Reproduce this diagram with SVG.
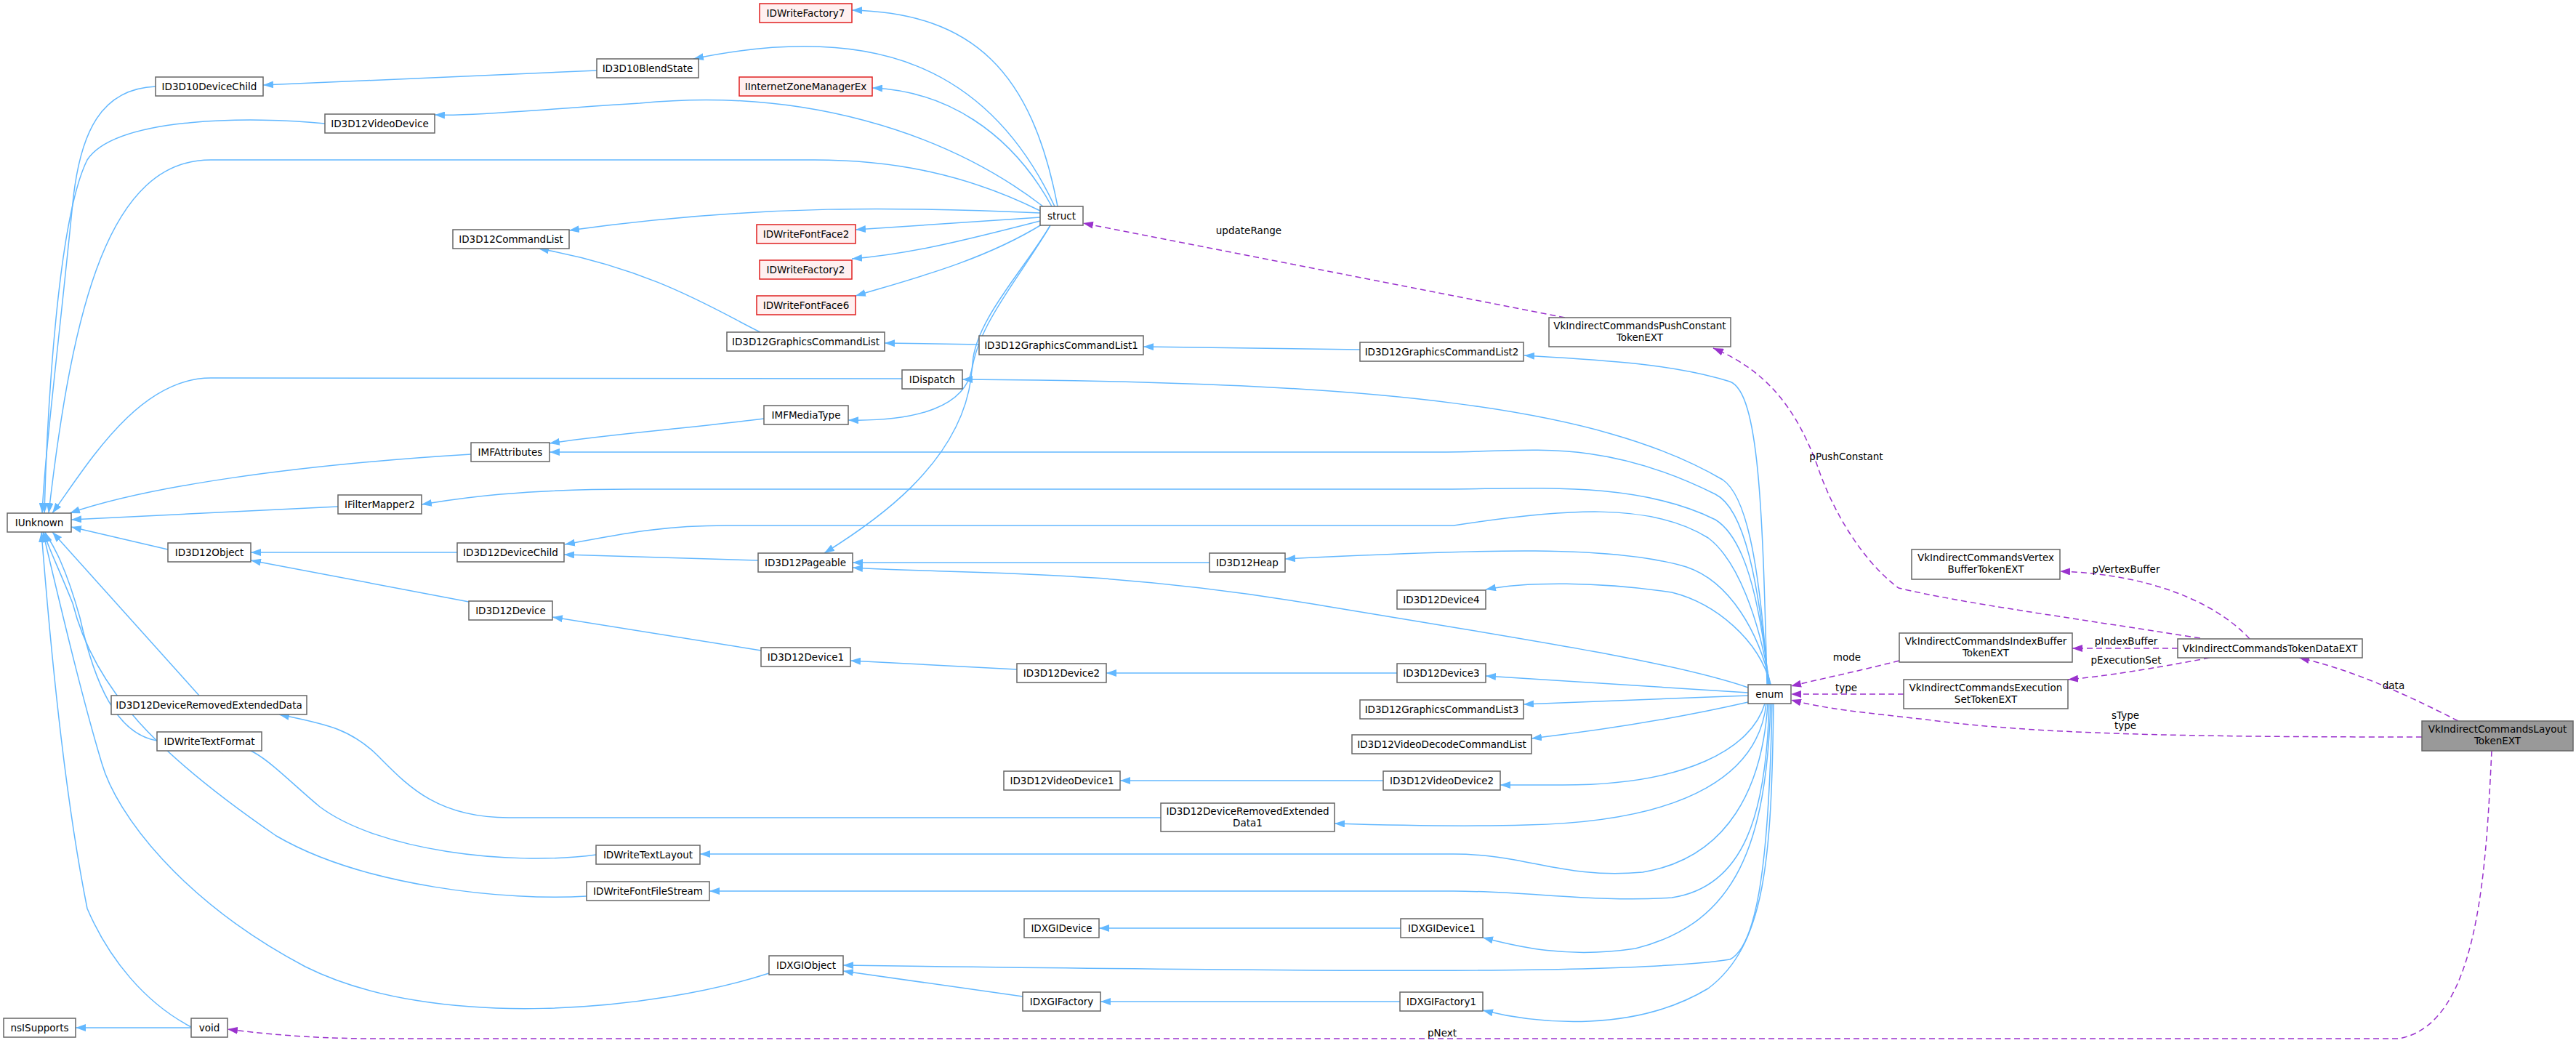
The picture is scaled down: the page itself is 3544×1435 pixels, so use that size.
<svg xmlns="http://www.w3.org/2000/svg" width="3544" height="1435" viewBox="0 0 3544 1435">
<style>
.n rect{fill:#fff;stroke:#666;stroke-width:1.5}
.r rect{fill:#fff0f0;stroke:#e02020}
.g rect{fill:#999;stroke:#666}
text{font-family:"DejaVu Sans","Liberation Sans",sans-serif;font-size:13.5px;fill:#000;text-anchor:middle}
.b{fill:none;stroke:#63b8ff;stroke-width:1.5}
.p{fill:none;stroke:#9a32cd;stroke-width:1.5;stroke-dasharray:8,5}
</style>
<defs>
<marker id="ab" markerWidth="14" markerHeight="10" refX="14" refY="5" orient="auto" markerUnits="userSpaceOnUse"><path d="M0,0L14,5L0,10z" fill="#63b8ff"/></marker>
<marker id="ap" markerWidth="14" markerHeight="10" refX="14" refY="5" orient="auto" markerUnits="userSpaceOnUse"><path d="M0,0L14,5L0,10z" fill="#9a32cd"/></marker>
</defs>
<rect width="3544" height="1435" fill="#fff"/>
<g id="edges">
<g marker-end="url(#ab)" class="b">
<path class="b" d="M214,119 C140,122 110,180 100,280 C80,480 62,620 58,706"/>
<path class="b" d="M447,170 C350,160 160,160 120,220 C80,300 65,560 61,706"/>
<path class="b" d="M1431,290 C1330,240 1230,220 1120,220 L290,220 C150,220 100,420 67,706"/>
<path class="b" d="M1241,521 L290,520 C190,520 120,640 72,706"/>
<path class="b" d="M648,625 C400,640 200,670 96,706"/>
<path class="b" d="M465,697 L98,715"/>
<path class="b" d="M231,756 L98,725"/>
<path class="b" d="M274,957 L72,732"/>
<path class="b" d="M216,1019 C160,1010 130,940 110,850 C85,760 65,740 62,732"/>
<path class="b" d="M807,1233 C700,1240 500,1220 380,1150 C220,1040 130,950 100,830 C80,780 65,750 60,732"/>
<path class="b" d="M1058,1339 C900,1390 600,1420 420,1330 C250,1240 160,1120 140,1050 C110,950 80,820 59,732"/>
<path class="b" d="M263,1413 C200,1380 150,1320 120,1250 C90,1100 70,900 57,732"/>
<path class="b" d="M263,1414 L104,1414"/>
<path class="b" d="M821,97 L362,117"/>
<path class="b" d="M1455,284 C1420,100 1340,18 1172,14"/>
<path class="b" d="M1451,284 C1360,90 1200,30 954,81"/>
<path class="b" d="M1447,284 C1390,180 1300,125 1200,121"/>
<path class="b" d="M1435,284 C1300,180 1100,120 880,142 C750,150 650,160 598,158"/>
<path class="b" d="M1431,293 C1250,285 1050,280 783,317"/>
<path class="b" d="M1431,299 L1177,316"/>
<path class="b" d="M1431,304 C1330,330 1250,350 1172,356"/>
<path class="b" d="M1433,309 C1350,360 1250,385 1177,407"/>
<path class="b" d="M1445,310 C1410,370 1342,440 1338,500 C1334,560 1260,580 1167,578"/>
<path class="b" d="M1445,310 C1405,380 1340,450 1336,520 C1320,640 1200,720 1134,761"/>
<path class="b" d="M1046,457 C990,430 900,370 741,342"/>
<path class="b" d="M1347,474 L1217,472"/>
<path class="b" d="M1871,481 L1573,477"/>
<path class="b" d="M1051,576 C940,590 830,598 756,610"/>
<path class="b" d="M629,760 L345,760"/>
<path class="b" d="M645,828 L345,771"/>
<path class="b" d="M1043,771 L776,763"/>
<path class="b" d="M1047,895 L760,849"/>
<path class="b" d="M1399,921 L1170,909"/>
<path class="b" d="M1922,926 L1522,926"/>
<path class="b" d="M1664,774 L1173,774"/>
<path class="b" d="M1597,1125 L700,1125 C600,1125 560,1080 520,1040 C480,1000 440,995 384,983"/>
<path class="b" d="M820,1176 C700,1192 520,1170 440,1110 C380,1060 340,1010 305,1033"/>
<path class="b" d="M1903,1074 L1541,1074"/>
<path class="b" d="M1927,1277 L1512,1277"/>
<path class="b" d="M1407,1371 L1160,1336"/>
<path class="b" d="M1926,1378 L1514,1378"/>
<path class="b" d="M2431,942 C2425,700 2420,540 2380,525 C2300,500 2200,495 2097,489"/>
<path class="b" d="M2432,942 C2420,760 2400,680 2370,660 C2200,560 1900,525 1324,522"/>
<path class="b" d="M2433,942 C2420,800 2400,700 2360,680 C2200,600 2100,622 1990,622 L756,622"/>
<path class="b" d="M2434,942 C2420,820 2400,740 2360,715 C2250,660 2100,673 1990,673 L870,673 C700,673 620,688 580,694"/>
<path class="b" d="M2435,942 C2420,850 2390,770 2350,740 C2270,690 2150,700 2000,723 L1000,723 C900,723 840,738 777,749"/>
<path class="b" d="M2436,942 C2420,870 2380,800 2320,780 C2220,750 2050,755 1768,769"/>
<path class="b" d="M2405,946 C2300,910 2100,880 1800,830 C1500,780 1300,790 1173,781"/>
<path class="b" d="M2436,942 C2420,880 2360,830 2300,815 C2200,800 2100,800 2044,811"/>
<path class="b" d="M2405,953 L2044,930"/>
<path class="b" d="M2405,957 L2096,969"/>
<path class="b" d="M2405,966 C2300,990 2200,1005 2107,1016"/>
<path class="b" d="M2428,968 C2410,1030 2320,1080 2150,1080 L2064,1080"/>
<path class="b" d="M2430,968 C2420,1060 2330,1130 2100,1135 C2000,1138 1900,1135 1836,1133"/>
<path class="b" d="M2432,968 C2425,1080 2380,1180 2260,1200 C2150,1210 2100,1175 2000,1175 L963,1175"/>
<path class="b" d="M2434,968 C2430,1120 2400,1220 2300,1235 C2200,1242 2100,1226 2000,1226 L976,1226"/>
<path class="b" d="M2436,968 C2430,1160 2390,1270 2250,1305 C2150,1320 2080,1300 2040,1290"/>
<path class="b" d="M2438,968 C2434,1170 2420,1300 2380,1320 C2250,1340 1900,1338 1160,1328"/>
<path class="b" d="M2440,968 C2437,1180 2430,1300 2350,1360 C2250,1420 2120,1410 2040,1390"/>
</g>
<g marker-end="url(#ap)" class="p">
<path class="p" d="M2153,437 L1490,307"/>
<path class="p" d="M3027,878 C2850,850 2700,830 2612,809 C2560,770 2520,700 2500,640 C2470,560 2430,510 2357,479"/>
<path class="p" d="M3095,879 C3050,830 2960,790 2834,786"/>
<path class="p" d="M2996,892 L2851,892"/>
<path class="p" d="M3040,905 C2960,920 2900,930 2845,935"/>
<path class="p" d="M2613,909 C2550,925 2500,935 2464,944"/>
<path class="p" d="M2619,955 L2464,955"/>
<path class="p" d="M3332,1014 C3000,1014 2800,1010 2650,990 C2560,980 2510,975 2464,963"/>
<path class="p" d="M3382,992 C3300,950 3230,920 3163,905"/>
<path class="p" d="M3428,1033 C3420,1200 3410,1410 3300,1429 L500,1429 C420,1428 360,1422 313,1416"/>
</g>
<text x="1718" y="322">updateRange</text>
<text x="2540" y="633">pPushConstant</text>
<text x="2925" y="788">pVertexBuffer</text>
<text x="2925" y="887">pIndexBuffer</text>
<text x="2925" y="913">pExecutionSet</text>
<text x="2541" y="909">mode</text>
<text x="2540" y="951">type</text>
<text x="2924" y="989">sType</text>
<text x="2924" y="1003">type</text>
<text x="3293" y="948">data</text>
<text x="1984" y="1426">pNext</text>
</g>
<g id="IDWriteFactory7" class="n r"><rect x="1045" y="5" width="127" height="26"/><text x="1108.5" y="23">IDWriteFactory7</text></g>
<g id="ID3D10BlendState" class="n"><rect x="821" y="81" width="140" height="26"/><text x="891" y="99">ID3D10BlendState</text></g>
<g id="ID3D10DeviceChild" class="n"><rect x="214" y="106" width="148" height="26"/><text x="288" y="124">ID3D10DeviceChild</text></g>
<g id="IInternetZoneManagerEx" class="n r"><rect x="1017" y="106" width="183" height="26"/><text x="1108.5" y="124">IInternetZoneManagerEx</text></g>
<g id="ID3D12VideoDevice" class="n"><rect x="447" y="157" width="151" height="26"/><text x="522.5" y="175">ID3D12VideoDevice</text></g>
<g id="struct" class="n"><rect x="1431" y="284" width="59" height="26"/><text x="1460.5" y="302">struct</text></g>
<g id="IDWriteFontFace2" class="n r"><rect x="1041" y="309" width="136" height="26"/><text x="1109" y="327">IDWriteFontFace2</text></g>
<g id="ID3D12CommandList" class="n"><rect x="623" y="316" width="160" height="26"/><text x="703" y="334">ID3D12CommandList</text></g>
<g id="IDWriteFactory2" class="n r"><rect x="1045" y="358" width="127" height="26"/><text x="1108.5" y="376">IDWriteFactory2</text></g>
<g id="IDWriteFontFace6" class="n r"><rect x="1041" y="407" width="136" height="26"/><text x="1109" y="425">IDWriteFontFace6</text></g>
<g id="ID3D12GraphicsCommandList" class="n"><rect x="1000" y="457" width="217" height="26"/><text x="1108.5" y="475">ID3D12GraphicsCommandList</text></g>
<g id="ID3D12GraphicsCommandList1" class="n"><rect x="1347" y="462" width="226" height="26"/><text x="1460" y="480">ID3D12GraphicsCommandList1</text></g>
<g id="ID3D12GraphicsCommandList2" class="n"><rect x="1871" y="471" width="225" height="26"/><text x="1983.5" y="489">ID3D12GraphicsCommandList2</text></g>
<g id="VkIndirectCommandsPushConstantTokenEXT" class="n"><rect x="2131" y="437" width="250" height="40"/><text x="2256" y="453">VkIndirectCommandsPushConstant</text><text x="2256" y="469">TokenEXT</text></g>
<g id="IDispatch" class="n"><rect x="1241" y="509" width="83" height="26"/><text x="1282.5" y="527">IDispatch</text></g>
<g id="IMFMediaType" class="n"><rect x="1051" y="558" width="116" height="26"/><text x="1109" y="576">IMFMediaType</text></g>
<g id="IMFAttributes" class="n"><rect x="648" y="609" width="108" height="26"/><text x="702" y="627">IMFAttributes</text></g>
<g id="IFilterMapper2" class="n"><rect x="465" y="681" width="115" height="26"/><text x="522.5" y="699">IFilterMapper2</text></g>
<g id="IUnknown" class="n"><rect x="10" y="706" width="88" height="26"/><text x="54" y="724">IUnknown</text></g>
<g id="ID3D12Object" class="n"><rect x="231" y="747" width="114" height="26"/><text x="288" y="765">ID3D12Object</text></g>
<g id="ID3D12DeviceChild" class="n"><rect x="629" y="747" width="147" height="26"/><text x="702.5" y="765">ID3D12DeviceChild</text></g>
<g id="ID3D12Pageable" class="n"><rect x="1043" y="761" width="130" height="26"/><text x="1108" y="779">ID3D12Pageable</text></g>
<g id="ID3D12Heap" class="n"><rect x="1664" y="761" width="104" height="26"/><text x="1716" y="779">ID3D12Heap</text></g>
<g id="VkIndirectCommandsVertexBufferTokenEXT" class="n"><rect x="2630" y="756" width="204" height="41"/><text x="2732" y="772">VkIndirectCommandsVertex</text><text x="2732" y="788">BufferTokenEXT</text></g>
<g id="ID3D12Device4" class="n"><rect x="1922" y="812" width="122" height="26"/><text x="1983" y="830">ID3D12Device4</text></g>
<g id="ID3D12Device" class="n"><rect x="645" y="827" width="115" height="26"/><text x="702.5" y="845">ID3D12Device</text></g>
<g id="VkIndirectCommandsTokenDataEXT" class="n"><rect x="2996" y="879" width="254" height="26"/><text x="3123" y="897">VkIndirectCommandsTokenDataEXT</text></g>
<g id="VkIndirectCommandsIndexBufferTokenEXT" class="n"><rect x="2613" y="871" width="238" height="40"/><text x="2732" y="887">VkIndirectCommandsIndexBuffer</text><text x="2732" y="903">TokenEXT</text></g>
<g id="ID3D12Device1" class="n"><rect x="1047" y="891" width="123" height="26"/><text x="1108.5" y="909">ID3D12Device1</text></g>
<g id="ID3D12Device2" class="n"><rect x="1399" y="913" width="123" height="26"/><text x="1460.5" y="931">ID3D12Device2</text></g>
<g id="ID3D12Device3" class="n"><rect x="1922" y="913" width="122" height="26"/><text x="1983" y="931">ID3D12Device3</text></g>
<g id="VkIndirectCommandsExecutionSetTokenEXT" class="n"><rect x="2619" y="935" width="226" height="40"/><text x="2732" y="951">VkIndirectCommandsExecution</text><text x="2732" y="967">SetTokenEXT</text></g>
<g id="enum" class="n"><rect x="2405" y="942" width="59" height="26"/><text x="2434.5" y="960">enum</text></g>
<g id="ID3D12DeviceRemovedExtendedData" class="n"><rect x="153" y="957" width="269" height="26"/><text x="287.5" y="975">ID3D12DeviceRemovedExtendedData</text></g>
<g id="ID3D12GraphicsCommandList3" class="n"><rect x="1871" y="963" width="225" height="26"/><text x="1983.5" y="981">ID3D12GraphicsCommandList3</text></g>
<g id="VkIndirectCommandsLayoutTokenEXT" class="n g"><rect x="3332" y="992" width="208" height="41"/><text x="3436" y="1008">VkIndirectCommandsLayout</text><text x="3436" y="1024">TokenEXT</text></g>
<g id="IDWriteTextFormat" class="n"><rect x="216" y="1007" width="144" height="26"/><text x="288" y="1025">IDWriteTextFormat</text></g>
<g id="ID3D12VideoDecodeCommandList" class="n"><rect x="1860" y="1011" width="247" height="26"/><text x="1983.5" y="1029">ID3D12VideoDecodeCommandList</text></g>
<g id="ID3D12VideoDevice1" class="n"><rect x="1381" y="1061" width="160" height="26"/><text x="1461" y="1079">ID3D12VideoDevice1</text></g>
<g id="ID3D12VideoDevice2" class="n"><rect x="1903" y="1061" width="161" height="26"/><text x="1983.5" y="1079">ID3D12VideoDevice2</text></g>
<g id="ID3D12DeviceRemovedExtendedData1" class="n"><rect x="1597" y="1105" width="239" height="39"/><text x="1716.5" y="1121">ID3D12DeviceRemovedExtended</text><text x="1716.5" y="1137">Data1</text></g>
<g id="IDWriteTextLayout" class="n"><rect x="820" y="1163" width="143" height="26"/><text x="891.5" y="1181">IDWriteTextLayout</text></g>
<g id="IDWriteFontFileStream" class="n"><rect x="807" y="1213" width="169" height="26"/><text x="891.5" y="1231">IDWriteFontFileStream</text></g>
<g id="IDXGIDevice" class="n"><rect x="1409" y="1264" width="103" height="26"/><text x="1460.5" y="1282">IDXGIDevice</text></g>
<g id="IDXGIDevice1" class="n"><rect x="1927" y="1264" width="113" height="26"/><text x="1983.5" y="1282">IDXGIDevice1</text></g>
<g id="IDXGIObject" class="n"><rect x="1058" y="1315" width="102" height="26"/><text x="1109" y="1333">IDXGIObject</text></g>
<g id="IDXGIFactory" class="n"><rect x="1407" y="1365" width="107" height="26"/><text x="1460.5" y="1383">IDXGIFactory</text></g>
<g id="IDXGIFactory1" class="n"><rect x="1926" y="1365" width="114" height="26"/><text x="1983" y="1383">IDXGIFactory1</text></g>
<g id="nsISupports" class="n"><rect x="5" y="1401" width="99" height="26"/><text x="54.5" y="1419">nsISupports</text></g>
<g id="void" class="n"><rect x="263" y="1401" width="50" height="26"/><text x="288" y="1419">void</text></g>
</svg>
